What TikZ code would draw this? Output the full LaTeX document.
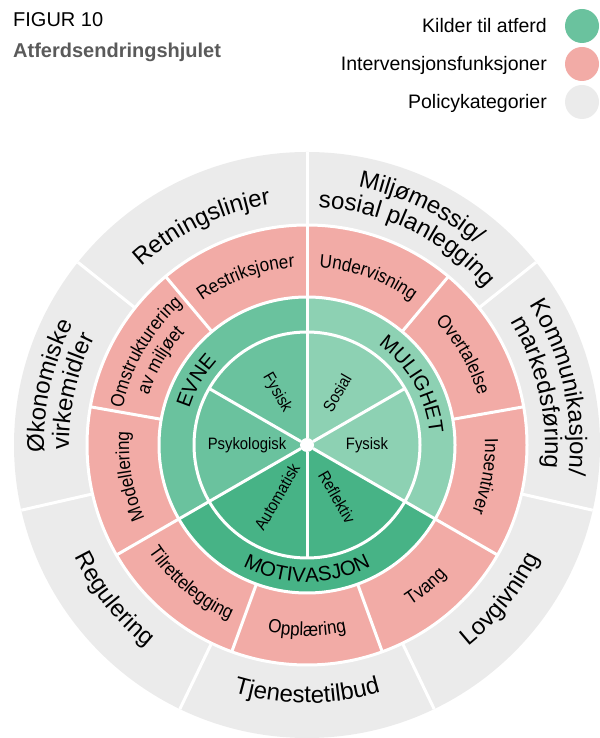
\documentclass[tikz,border=0pt]{standalone}
\usepackage{fontspec}
\setmainfont{Liberation Sans}
\newfontfamily\condfont[FakeStretch=0.9]{Liberation Sans}
\usetikzlibrary{decorations.text}

\definecolor{evnegreen}{RGB}{106,194,158}
\definecolor{mulighetgreen}{RGB}{141,209,179}
\definecolor{motivgreen}{RGB}{71,179,134}
\definecolor{funkpink}{RGB}{242,171,166}
\definecolor{policygray}{RGB}{235,235,235}
\definecolor{titlegray}{RGB}{90,90,90}

\newcommand{\policyfont}{\fontsize{24}{28}\selectfont}
\newcommand{\funkfont}{\condfont\fontsize{19}{22}\selectfont}
\newcommand{\kildefont}{\fontsize{20.5}{24}\selectfont}
\newcommand{\subfont}{\condfont\fontsize{16.5}{19}\selectfont}
\newcommand{\legendfont}{\fontsize{19.5}{22}\selectfont}

% text along an arc, clockwise (letters outward) / anticlockwise (letters inward)
\newcommand{\cwlabel}[4]{%
  \path[decorate, decoration={text along path, text align=center, text={|#1|#4}}]
    ({#3+40}:#2) arc[start angle={#3+40}, end angle={#3-40}, radius=#2];}
\newcommand{\ccwlabel}[4]{%
  \path[decorate, decoration={text along path, text align=center, text={|#1|#4}}]
    ({#3-40}:#2) arc[start angle={#3-40}, end angle={#3+40}, radius=#2];}

\tikzset{
  sublabel/.style={font=\subfont, inner sep=0},
  legenddot/.style={circle, minimum size=34, inner sep=0},
  legendtext/.style={anchor=base east, inner sep=0, font=\legendfont},
}

\begin{document}
\begin{tikzpicture}[x=1pt, y=1pt]
  \useasboundingbox (0,0) rectangle (599,738);

  \node (figur) [anchor=base west, inner sep=0, font=\fontsize{20}{24}\selectfont] at (13,711) {FIGUR 10};
  \node (tittel) [anchor=base west, inner sep=0, font=\fontsize{20}{24}\selectfont\bfseries, text=titlegray] at (13,680) {Atferdsendringshjulet};

  \node (kildedot) [legenddot, fill=evnegreen] at (582,712) {};
  \node (funkdot) [legenddot, fill=funkpink] at (582,674) {};
  \node (policydot) [legenddot, fill=policygray] at (582,636) {};
  \node (kildetext) [legendtext] at (547,705) {Kilder til atferd};
  \node (funktext) [legendtext] at (547,667) {Intervensjonsfunksjoner};
  \node (policytext) [legendtext] at (547,629) {Policykategorier};

  \begin{scope}[shift={(307,293)}]
    \fill[policygray] (0,0) circle[radius=293];
    \fill[funkpink] (0,0) circle[radius=220];
    \fill[evnegreen] (0,0) -- (90:148) arc[start angle=90, end angle=210, radius=148] -- cycle;
    \fill[motivgreen] (0,0) -- (210:148) arc[start angle=210, end angle=330, radius=148] -- cycle;
    \fill[mulighetgreen] (0,0) -- (-30:148) arc[start angle=-30, end angle=90, radius=148] -- cycle;

    \begin{scope}[white, line width=3]
      \draw (0,0) circle[radius=220];
      \draw (0,0) circle[radius=148];
      \draw (0,0) circle[radius=113];
      \draw (90:7) -- (90:293);
      \foreach \a in {30,150,270} \draw (\a:7) -- (\a:113);
      \foreach \a in {210,330} \draw (\a:7) -- (\a:220);
      \foreach \a in {10,50,130,170,250,290} \draw (\a:148) -- (\a:220);
      \foreach \a in {1,...,6} \draw ({90+\a*360/7}:220) -- ({90+\a*360/7}:293);
      \fill (0,0) circle[radius=7];
    \end{scope}

    \cwlabel{\policyfont}{243}{115.71}{Retningslinjer}
    \cwlabel{\policyfont}{263}{64.29}{Miljømessig/}
    \cwlabel{\policyfont}{238}{64.29}{sosial planlegging}
    \cwlabel{\policyfont}{263}{12.86}{Kommunikasjon/}
    \cwlabel{\policyfont}{238}{12.86}{markedsføring}
    \ccwlabel{\policyfont}{258}{-38.57}{Lovgivning}
    \ccwlabel{\policyfont}{258}{-90}{Tjenestetilbud}
    \ccwlabel{\policyfont}{258}{218.57}{Regulering}
    \cwlabel{\policyfont}{263}{167.14}{Økonomiske}
    \cwlabel{\policyfont}{238}{167.14}{virkemidler}

    \cwlabel{\funkfont}{178}{110}{Restriksjoner}
    \cwlabel{\funkfont}{178}{70}{Undervisning}
    \cwlabel{\funkfont}{178}{30}{Overtalelse}
    \cwlabel{\funkfont}{178}{-10}{Insentiver}
    \ccwlabel{\funkfont}{191}{-50}{Tvang}
    \ccwlabel{\funkfont}{191}{-90}{Opplæring}
    \ccwlabel{\funkfont}{191}{-130}{Tilrettelegging}
    \cwlabel{\funkfont}{178}{190}{Modellering}
    \cwlabel{\funkfont}{188}{150}{Omstrukturering}
    \cwlabel{\funkfont}{166}{150}{av miljøet}

    \cwlabel{\kildefont}{123}{150}{EVNE}
    \cwlabel{\kildefont}{123}{30}{MULIGHET}
    \ccwlabel{\kildefont}{137}{-90}{MOTIVASJON}

    \node (fysiskevne) [sublabel, rotate=-60] at (120:60) {Fysisk};
    \node (psykologisk) [sublabel] at (180:60) {Psykologisk};
    \node (automatisk) [sublabel, rotate=60] at (240:60) {Automatisk};
    \node (reflektiv) [sublabel, rotate=-60] at (300:60) {Reflektiv};
    \node (fysiskmul) [sublabel] at (0:60) {Fysisk};
    \node (sosial) [sublabel, rotate=60] at (60:60) {Sosial};
  \end{scope}
\end{tikzpicture}
\end{document}
